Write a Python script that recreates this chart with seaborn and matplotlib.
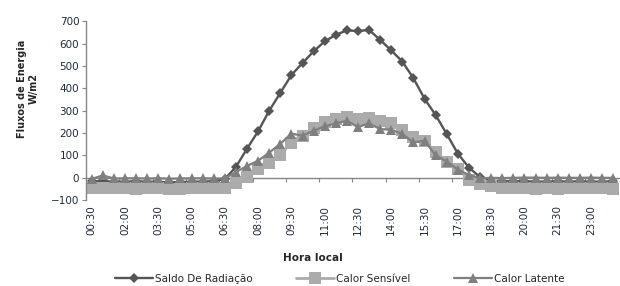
import numpy as np
import pandas as pd
import matplotlib
matplotlib.use("Agg")
import matplotlib.pyplot as plt
import seaborn as sns

# Half-hourly local time (00:30 ... 00:00)
horas = ["00:30", "01:00", "01:30", "02:00", "02:30", "03:00", "03:30", "04:00",
         "04:30", "05:00", "05:30", "06:00", "06:30", "07:00", "07:30", "08:00",
         "08:30", "09:00", "09:30", "10:00", "10:30", "11:00", "11:30", "12:00",
         "12:30", "13:00", "13:30", "14:00", "14:30", "15:00", "15:30", "16:00",
         "16:30", "17:00", "17:30", "18:00", "18:30", "19:00", "19:30", "20:00",
         "20:30", "21:00", "21:30", "22:00", "22:30", "23:00", "23:30", "00:00"]

saldo = [-17, -16, -18, -18, -17, -18, -19, -21, -20, -18, -18, -16,
         -6, 48, 130, 208, 300, 380, 460, 514, 566, 611, 640, 660,
         657, 662, 617, 570, 520, 445, 353, 280, 195, 107, 45, 2,
         -14, -16, -17, -16, -18, -18, -17, -18, -17, -18, -18, -17]

sensivel = [-47, -47, -48, -48, -49, -47, -46, -49, -49, -48, -47, -46,
            -45, -22, 4, 37, 66, 103, 156, 186, 222, 248, 262, 272,
            262, 266, 255, 243, 213, 183, 162, 116, 72, 40, -10, -27,
            -38, -47, -47, -48, -51, -48, -49, -48, -48, -48, -47, -49]

latente = [-6, 10, -4, -3, -3, -4, -3, -5, -4, -3, -3, -4,
           -4, 25, 52, 76, 112, 152, 197, 188, 210, 230, 243, 255,
           226, 244, 217, 215, 195, 158, 165, 100, 72, 36, 12, -3,
           -1, -2, -1, 0, 0, -1, 0, -1, -1, 0, -1, -1]

df = pd.DataFrame({"pos": np.arange(len(horas)), "hora": horas,
                   "saldo": saldo, "sensivel": sensivel, "latente": latente})

sns.set_style("white")
plt.rcParams["font.family"] = ["DejaVu Sans"]

fig = plt.figure(figsize=(6.2, 2.86), dpi=100)
ax = fig.add_axes([0.139, 0.301, 0.859, 0.624])

sns.lineplot(data=df, x="pos", y="saldo", ax=ax, sort=False, color="#555555",
             marker="D", markersize=4.8, markeredgewidth=0, linewidth=1.7,
             label="Saldo De Radiação")
sns.lineplot(data=df, x="pos", y="sensivel", ax=ax, sort=False, color="#ababab",
             marker="s", markersize=8.3, markeredgewidth=0, linewidth=2.0,
             label="Calor Sensível")
sns.lineplot(data=df, x="pos", y="latente", ax=ax, sort=False, color="#7f7f7f",
             marker="^", markersize=7.5, markeredgewidth=0, linewidth=1.6,
             label="Calor Latente")

ymin, ymax = -100, 700
ax.set_ylim(ymin, ymax)
ax.set_xlim(-0.5, len(horas) - 0.5)
ax.set_yticks(np.arange(-100, 701, 100))
ax.tick_params(axis="y", labelsize=7.5, length=3, color="#868686",
               labelcolor="#1f2a3a", left=True, pad=2)

# labels every 3rd slot, at the bottom, no tick marks
lab_pos = df["pos"].values[::3]
ax.set_xticks(lab_pos)
ax.set_xticklabels(df["hora"].values[::3], rotation=90, fontsize=7.5,
                   color="#1f2a3a")
ax.tick_params(axis="x", length=0, pad=4)
ax.set_xlabel("")
ax.set_ylabel("")

for s in ["top", "right", "bottom"]:
    ax.spines[s].set_visible(False)
ax.spines["left"].set_color("#868686")
ax.spines["left"].set_linewidth(1.0)

# horizontal category axis crossing at y = 0
zero_frac = (0 - ymin) / (ymax - ymin)
sec = ax.secondary_xaxis(zero_frac)
sec.set_xticks(lab_pos - 0.5)
sec.set_xticklabels([])
sec.tick_params(axis="x", length=3, color="#868686", direction="out")
sec.spines["bottom"].set_color("#868686")
sec.spines["bottom"].set_linewidth(1.0)

fig.text(0.505, 0.098, "Hora local", ha="center", va="center",
         fontsize=7.5, fontweight="bold")
fig.text(0.045, 0.69, "Fluxos de Energia\nW/m2", ha="center", va="center",
         rotation=90, fontsize=7, fontweight="bold", linespacing=1.1)

handles, labels = ax.get_legend_handles_labels()
ax.get_legend().remove()
fig.legend(handles, labels, loc="center", bbox_to_anchor=(0.548, 0.025),
           ncol=3, frameon=False, fontsize=7.5, handlelength=3.6,
           columnspacing=4.2, handletextpad=0.2)

fig.savefig("out.png", dpi=100)
